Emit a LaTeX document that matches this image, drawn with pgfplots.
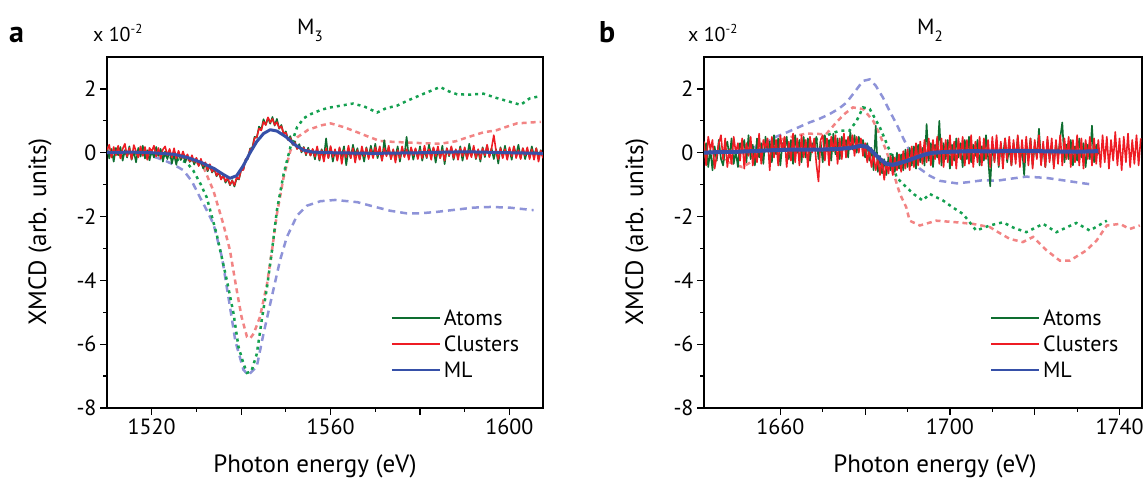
\documentclass[border=0pt]{standalone}
\usepackage{pgfplots}
\pgfplotsset{compat=1.18}
\usepackage{pgfplotstable}
\usepackage{fontspec}
\setmainfont{PT Sans}

\definecolor{gA}{HTML}{0E6E30}
\definecolor{rC}{HTML}{EE1C24}
\definecolor{bML}{HTML}{3650A8}
\definecolor{gD}{HTML}{14A050}
\definecolor{rD}{HTML}{F28484}
\definecolor{bD}{HTML}{8E93D8}

\pgfplotstableread{
x A C
1510.0 0.22 0.08
1510.5 -0.18 0.25
1511.0 0.12 -0.15
1511.5 -0.28 0.18
1512.0 0.15 -0.08
1512.5 -0.08 0.22
1513.0 0.18 -0.18
1513.5 -0.25 0.12
1514.0 0.08 0.28
1514.5 -0.15 -0.12
1515.0 0.20 0.15
1515.5 -0.22 -0.20
1516.0 0.04 0.24
1516.5 -0.30 0.04
1517.0 0.15 -0.15
1517.5 -0.12 0.20
1518.0 0.22 -0.10
1518.5 -0.18 0.18
1519.0 0.08 -0.22
1519.5 -0.24 0.15
1520.0 0.06 0.04
1520.5 -0.15 0.22
1521.0 0.18 -0.12
1521.5 -0.10 0.15
1522.0 0.12 -0.18
1522.5 -0.28 0.10
1523.0 0.04 0.20
1523.5 -0.20 -0.08
1524.0 0.08 0.12
1524.5 -0.34 -0.15
1525.0 -0.06 0.14
1525.5 -0.38 -0.18
1526.0 0.02 0.06
1526.5 -0.23 -0.16
1527.0 -0.05 0.04
1527.5 -0.30 -0.17
1528.0 -0.09 -0.05
1528.5 -0.29 -0.27
1529.0 -0.16 -0.08
1529.5 -0.37 -0.29
1530.0 -0.18 -0.16
1530.5 -0.40 -0.42
1531.0 -0.27 -0.19
1531.5 -0.49 -0.41
1532.0 -0.35 -0.30
1532.5 -0.58 -0.54
1533.0 -0.40 -0.36
1533.5 -0.62 -0.60
1534.0 -0.51 -0.47
1534.5 -0.74 -0.72
1535.0 -0.62 -0.59
1535.5 -0.82 -0.84
1536.0 -0.71 -0.71
1536.5 -0.94 -0.90
1537.0 -0.81 -0.78
1537.5 -1.02 -1.00
1538.0 -0.86 -0.88
1538.5 -1.06 -1.02
1539.0 -0.80 -0.77
1539.5 -0.84 -0.82
1540.0 -0.54 -0.54
1540.5 -0.52 -0.54
1541.0 -0.22 -0.20
1541.5 -0.20 -0.18
1542.0 0.13 0.11
1542.5 0.16 0.14
1543.0 0.50 0.46
1543.5 0.47 0.49
1544.0 0.82 0.76
1544.5 0.72 0.70
1545.0 1.05 0.97
1545.5 0.87 0.87
1546.0 1.09 1.11
1546.5 0.91 0.95
1547.0 1.12 1.06
1547.5 0.85 0.87
1548.0 1.06 0.96
1548.5 0.75 0.77
1549.0 0.87 0.83
1549.5 0.58 0.60
1550.0 0.67 0.63
1550.5 0.40 0.40
1551.0 0.52 0.46
1551.5 0.25 0.27
1552.0 0.36 0.32
1552.5 0.12 0.12
1553.0 0.27 0.19
1553.5 0.01 0.05
1554.0 0.18 0.16
1554.5 -0.08 -0.04
1555.0 0.16 0.10
1555.5 -0.09 -0.09
1556.0 0.10 0.12
1556.5 -0.21 -0.12
1557.0 0.14 0.20
1557.5 -0.25 -0.21
1558.0 0.11 0.08
1558.5 -0.14 -0.28
1559.0 0.45 0.14
1559.5 -0.17 -0.17
1560.0 0.17 0.21
1560.5 -0.28 -0.14
1561.0 0.08 0.11
1561.5 -0.21 -0.25
1562.0 0.14 0.17
1562.5 -0.11 -0.35
1563.0 0.20 0.08
1563.5 -0.39 -0.14
1564.0 0.11 0.22
1564.5 -0.17 -0.17
1565.0 0.25 0.14
1565.5 -0.08 -0.31
1566.0 0.14 0.08
1566.5 -0.20 -0.22
1567.0 0.08 0.20
1567.5 -0.28 -0.11
1568.0 0.17 0.14
1568.5 -0.14 -0.20
1569.0 0.22 0.11
1569.5 -0.11 -0.17
1570.0 0.28 0.17
1570.5 -0.17 -0.08
1571.0 0.11 0.20
1571.5 -0.25 -0.25
1572.0 0.39 0.14
1572.5 -0.08 -0.11
1573.0 0.17 0.22
1573.5 -0.20 -0.20
1574.0 0.08 0.11
1574.5 -0.14 -0.31
1575.0 0.20 0.08
1575.5 -0.28 -0.17
1576.0 0.14 0.20
1576.5 -0.11 -0.14
1577.0 0.50 0.11
1577.5 -0.17 -0.22
1578.0 0.14 0.17
1578.5 -0.22 -0.08
1579.0 0.11 0.14
1579.5 -0.14 -0.20
1580.0 0.20 0.08
1580.5 -0.25 -0.17
1581.0 0.08 0.22
1581.5 -0.17 -0.14
1582.0 0.25 0.11
1582.5 -0.08 -0.22
1583.0 0.14 0.17
1583.5 -0.31 -0.11
1584.0 0.11 0.20
1584.5 -0.17 -0.17
1585.0 0.22 0.08
1585.5 -0.36 -0.25
1586.0 0.14 0.14
1586.5 -0.11 -0.08
1587.0 0.17 0.20
1587.5 -0.22 -0.17
1588.0 0.08 0.11
1588.5 -0.14 -0.22
1589.0 0.20 0.14
1589.5 -0.25 -0.11
1590.0 0.11 0.17
1590.5 -0.17 -0.20
1591.0 0.28 0.08
1591.5 -0.08 -0.14
1592.0 0.14 0.22
1592.5 -0.20 -0.17
1593.0 0.08 0.11
1593.5 -0.28 -0.20
1594.0 0.17 0.14
1594.5 -0.14 -0.08
1595.0 0.22 0.25
1595.5 -0.11 -0.14
1596.0 0.14 0.14
1596.5 -0.20 0.55
1597.0 0.11 0.06
1597.5 -0.34 -0.20
1598.0 0.17 0.14
1598.5 -0.14 -0.17
1599.0 0.22 0.11
1599.5 -0.17 -0.22
1600.0 0.11 0.17
1600.5 -0.22 -0.11
1601.0 0.20 0.20
1601.5 -0.08 -0.17
1602.0 0.25 0.08
1602.5 -0.17 -0.20
1603.0 0.14 0.14
1603.5 -0.20 -0.08
1604.0 0.08 0.17
1604.5 -0.14 -0.20
1605.0 0.20 0.11
1605.5 -0.11 -0.22
1606.0 0.14 0.14
1606.5 -0.17 -0.28
1607.0 0.08 0.07
1607.5 -0.14 -0.17
}\tabA

\pgfplotstableread{
x A C
1642.0 -0.15 0.35
1642.5 0.30 -0.40
1643.0 -0.45 0.50
1643.5 0.10 0.10
1644.0 -0.55 0.40
1644.5 0.20 -0.50
1645.0 -0.25 -0.10
1645.5 0.40 0.30
1646.0 -0.20 0.55
1646.5 -0.40 -0.20
1647.0 0.15 0.45
1647.5 0.35 -0.45
1648.0 -0.15 0.10
1648.5 0.45 -0.35
1649.0 -0.35 0.50
1649.5 0.05 0.00
1650.0 -0.45 0.30
1650.5 0.30 -0.25
1651.0 0.10 0.45
1651.5 0.40 -0.50
1652.0 -0.30 0.30
1652.5 0.55 -0.10
1653.0 -0.20 0.50
1653.5 0.25 -0.40
1654.0 -0.40 0.05
1654.5 0.45 -0.30
1655.0 -0.15 0.60
1655.5 0.30 -0.35
1656.0 -0.35 0.40
1656.5 0.50 0.15
1657.0 0.05 0.45
1657.5 0.35 -0.55
1658.0 -0.30 0.50
1658.5 0.55 -0.15
1659.0 -0.05 0.40
1659.5 0.45 -0.40
1660.0 -0.40 0.55
1660.5 0.30 0.05
1661.0 0.10 0.50
1661.5 0.50 -0.45
1662.0 -0.20 0.35
1662.5 0.40 -0.25
1663.0 -0.35 0.60
1663.5 0.55 -0.30
1664.0 0.00 0.45
1664.5 0.40 -0.40
1665.0 -0.30 0.55
1665.5 0.50 -0.15
1666.0 -0.15 0.40
1666.5 0.45 -0.45
1667.0 -0.25 0.50
1667.5 0.30 0.00
1668.0 0.10 0.45
1668.5 0.50 -0.35
1669.0 -0.20 -0.90
1669.5 0.35 0.40
1670.0 -0.30 0.55
1670.5 0.55 -0.25
1671.0 0.05 0.45
1671.5 0.40 -0.40
1672.0 -0.25 0.50
1672.5 0.60 0.05
1673.0 -0.05 0.55
1673.5 0.45 -0.35
1674.0 -0.20 0.45
1674.5 0.50 -0.20
1675.0 0.10 0.60
1675.5 0.40 -0.15
1676.0 -0.15 0.50
1676.5 0.65 0.10
1677.0 0.10 0.55
1677.5 0.55 -0.10
1678.0 0.00 0.50
1678.5 0.50 0.00
1679.0 0.20 0.45
1679.5 0.40 -0.10
1680.0 -0.15 0.30
1680.5 0.30 -0.30
1681.0 -0.25 0.10
1681.5 0.15 -0.45
1682.0 -0.55 -0.05
1682.5 0.85 -0.55
1683.0 -0.60 -0.15
1683.5 -0.10 -0.70
1684.0 -0.65 -0.20
1684.5 -0.20 -0.85
1685.0 -0.70 -0.30
1685.5 -0.15 -0.65
1686.0 -0.55 -0.10
1686.5 -0.05 -0.70
1687.0 -0.60 -0.15
1687.5 0.00 -0.55
1688.0 -0.50 -0.05
1688.5 -0.05 -0.60
1689.0 -0.55 0.05
1689.5 0.10 -0.50
1690.0 -0.45 0.10
1690.5 0.15 -0.55
1691.0 -0.40 0.20
1691.5 0.20 -0.45
1692.0 -0.50 0.30
1692.5 0.25 -0.40
1693.0 -0.30 0.35
1693.5 0.15 -0.35
1694.0 -0.40 0.40
1694.5 0.90 -0.30
1695.0 -0.25 0.45
1695.5 0.30 -0.40
1696.0 -0.45 0.40
1696.5 0.25 -0.20
1697.0 -0.15 0.50
1697.5 1.00 -0.35
1698.0 -0.40 0.45
1698.5 0.30 -0.45
1699.0 -0.20 0.40
1699.5 0.40 -0.30
1700.0 -0.50 0.55
1700.5 0.25 -0.40
1701.0 -0.25 0.35
1701.5 0.45 -0.50
1702.0 -0.15 0.45
1702.5 0.30 -0.20
1703.0 -0.45 0.50
1703.5 0.40 -0.40
1704.0 -0.20 0.40
1704.5 0.50 -0.35
1705.0 -0.30 0.55
1705.5 0.25 -0.45
1706.0 -0.10 0.35
1706.5 0.40 -0.30
1707.0 -0.40 0.50
1707.5 0.20 -0.40
1708.0 -0.25 0.45
1708.5 0.55 -0.20
1709.0 -0.15 0.40
1709.5 -1.05 -0.45
1710.0 0.30 0.50
1710.5 -0.25 -0.30
1711.0 0.40 0.55
1711.5 -0.45 -0.40
1712.0 0.25 0.35
1712.5 -0.15 -0.50
1713.0 0.45 0.45
1713.5 -0.30 -0.20
1714.0 0.20 0.50
1714.5 -0.40 -0.40
1715.0 0.30 0.40
1715.5 -0.20 -0.35
1716.0 0.50 0.55
1716.5 -0.25 -0.45
1717.0 0.15 0.40
1717.5 -0.70 -0.30
1718.0 0.30 0.50
1718.5 -0.20 -0.40
1719.0 0.45 0.45
1719.5 -0.40 -0.50
1720.0 0.25 0.40
1720.5 -0.15 -0.20
1721.0 0.75 0.55
1721.5 -0.30 -0.40
1722.0 0.20 0.35
1722.5 -0.45 -0.45
1723.0 0.40 0.50
1723.5 -0.20 -0.30
1724.0 0.25 0.45
1724.5 -0.40 -0.50
1725.0 0.30 0.40
1725.5 -0.15 -0.35
1726.0 0.45 0.55
1726.5 0.95 -0.40
1727.0 -0.30 0.45
1727.5 0.25 -0.20
1728.0 -0.20 0.50
1728.5 0.40 -0.45
1729.0 -0.40 0.40
1729.5 0.20 -0.30
1730.0 -0.25 0.55
1730.5 0.45 -0.40
1731.0 -0.15 0.45
1731.5 0.30 -0.50
1732.0 -0.45 0.40
1732.5 0.25 -0.20
1733.0 -0.20 0.50
1733.5 0.85 -0.40
1734.0 -0.30 0.45
1734.5 0.25 -0.35
1735.0 -0.05 0.40
1735.5 nan -0.45
1736.0 nan 0.55
1736.5 nan -0.30
1737.0 nan 0.50
1737.5 nan -0.50
1738.0 nan 0.40
1738.5 nan -0.25
1739.0 nan 0.65
1739.5 nan -0.40
1740.0 nan 0.45
1740.5 nan -0.55
1741.0 nan 0.50
1741.5 nan -0.30
1742.0 nan 0.60
1742.5 nan -0.45
1743.0 nan 0.40
1743.5 nan -0.35
1744.0 nan 0.55
1744.5 nan -0.40
1745.0 nan 0.45
}\tabB

\pgfplotsset{
  xmcd/.style={
    scale only axis, anchor=south west, height=351pt,
    ymin=-8, ymax=3,
    ytick={-8,-6,-4,-2,0,2}, yticklabels={-8,-6,-4,-2,0,2},
    minor y tick num=1, minor x tick num=1,
    tick align=outside, tick pos=left,
    major tick length=7pt, minor tick length=4pt,
    axis line style={line width=1.2pt},
    every tick/.append style={black, line width=1.2pt},
    ticklabel style={font=\fontsize{22}{22}\selectfont},
    legend cell align=left,
    legend style={draw=none, fill=none, anchor=north west, inner sep=0pt,
      font=\fontsize{22}{22}\selectfont, row sep=3pt,
      nodes={inner sep=3pt}},
    legend image code/.code={\draw[##1, line width=1.8pt] (0pt,0pt) -- (48pt,0pt);},
  },
  noisy/.style={line width=1.6pt, line join=round},
  gdash/.style={gD, line width=2.5pt, dash pattern=on 3pt off 4pt, forget plot},
  rdash/.style={rD, line width=2.5pt, dash pattern=on 5pt off 4pt, forget plot},
  bdash/.style={bD, line width=2.5pt, dash pattern=on 7pt off 5pt, forget plot},
}

\begin{document}
\begin{tikzpicture}[x=1pt,y=1pt]
\useasboundingbox (0,0) rectangle (1143,479);

% ---------------- panel a ----------------
\begin{axis}[xmcd, at={(107pt,71pt)}, width=436pt,
  xmin=1510, xmax=1607.5,
  xtick={1520,1540,1560,1580,1600}, xticklabels={1520,,1560,,1600},
  legend style={at={(0.651,0.29)}}]
\addplot[bdash] coordinates {(1510,0) (1516,-0.03) (1520,-0.1) (1523,-0.25) (1525,-0.38) (1527.1,-0.55) (1529,-0.9) (1530.8,-1.4) (1532.3,-1.8) (1533.8,-2.23) (1535.7,-3.27) (1537.5,-4.83) (1538.7,-5.9) (1540.5,-6.8) (1541.6,-6.97) (1543.5,-6.7) (1545,-5.67) (1547.2,-4.3) (1548.7,-3.37) (1550.2,-2.65) (1552.5,-1.97) (1554.7,-1.66) (1557.7,-1.52) (1561,-1.48) (1566,-1.55) (1570,-1.7) (1573.4,-1.82) (1577,-1.9) (1580,-1.9) (1584,-1.85) (1588.3,-1.78) (1592,-1.72) (1595.7,-1.7) (1600,-1.72) (1605.4,-1.8)};
\addplot[rdash] coordinates {(1510,0) (1520,-0.03) (1525,-0.1) (1528,-0.2) (1530,-0.3) (1531.6,-0.46) (1533.8,-1.19) (1536,-2.23) (1537.5,-3.06) (1539,-4.3) (1540.1,-5.15) (1541.3,-5.77) (1542,-5.82) (1542.8,-5.67) (1544.2,-5.15) (1545.8,-4.1) (1546.9,-3.06) (1548,-1.92) (1549.5,-0.77) (1551,0.06) (1552.5,0.48) (1555,0.72) (1558,0.86) (1560,0.92) (1563,0.8) (1566,0.64) (1568.5,0.5) (1571,0.37) (1574,0.34) (1577,0.32) (1580.5,0.3) (1584.5,0.28) (1588,0.36) (1591,0.5) (1594.2,0.64) (1597,0.7) (1599.5,0.82) (1601.7,0.92) (1604,0.94) (1607,0.97)};
\addplot[gdash] coordinates {(1510,0) (1518,-0.02) (1522,-0.06) (1525,-0.18) (1527.8,-0.3) (1529.3,-0.56) (1531,-1.0) (1532.3,-1.4) (1534.5,-2.54) (1536.8,-4.0) (1538.3,-5.04) (1539.4,-6.08) (1540.5,-6.6) (1541.3,-6.9) (1542.3,-6.85) (1543.5,-6.3) (1544.6,-5.25) (1545.8,-4.2) (1546.9,-3.06) (1548,-1.8) (1549.5,-0.67) (1551,0.17) (1552.5,0.8) (1554,1.08) (1555.4,1.2) (1558,1.35) (1560,1.42) (1565,1.54) (1567.5,1.45) (1570.4,1.26) (1572.5,1.4) (1574.8,1.47) (1577,1.62) (1580,1.8) (1584.5,2.06) (1586.5,1.92) (1588.3,1.83) (1591,1.82) (1594.2,1.85) (1597,1.72) (1600,1.6) (1602.5,1.5) (1604.5,1.7) (1607,1.78)};
\addplot[gA, noisy] table[x=x, y=A] {\tabA};
\addplot[rC, noisy] table[x=x, y=C] {\tabA};
\addplot[bML, line width=3pt, line join=round] coordinates {(1510,0) (1515,0.02) (1520,0) (1525,-0.05) (1528,-0.15) (1531,-0.3) (1534,-0.5) (1536,-0.68) (1537.5,-0.8) (1539,-0.72) (1540.5,-0.4) (1542,0) (1543.5,0.35) (1545,0.6) (1546.5,0.72) (1548,0.68) (1550,0.5) (1552,0.25) (1554,0.08) (1556,0.02) (1560,0) (1570,-0.02) (1580,0) (1590,0.03) (1600,0) (1607.5,-0.02)};
\legend{Atoms,Clusters,ML}
\end{axis}

% ---------------- panel b ----------------
\begin{axis}[xmcd, at={(704pt,71pt)}, width=438pt,
  xmin=1642, xmax=1745.3,
  xtick={1660,1680,1700,1720,1740}, xticklabels={1660,,1700,,1740},
  legend style={at={(0.653,0.29)}}]
\addplot[bdash] coordinates {(1642.4,0) (1647,0.02) (1651.2,0.06) (1654,0.18) (1656.7,0.32) (1659,0.5) (1661.4,0.63) (1664,0.78) (1666.9,0.95) (1669,1.05) (1671.6,1.21) (1673.8,1.38) (1675.6,1.57) (1677.5,1.9) (1679.5,2.25) (1681.1,2.3) (1682.5,2.1) (1684.2,1.73) (1685.8,1.3) (1687.4,0.9) (1689,0.45) (1690.5,0.06) (1692.9,-0.5) (1695.2,-0.72) (1697.6,-0.88) (1701.6,-0.96) (1704.5,-0.92) (1707.9,-0.86) (1711,-0.88) (1714,-0.82) (1718,-0.75) (1722.8,-0.79) (1727.5,-0.88) (1731,-0.95) (1733.8,-1.0)};
\addplot[rdash] coordinates {(1642,0) (1645,-0.1) (1648,-0.3) (1651,-0.45) (1653,-0.3) (1655,-0.05) (1657,0.2) (1659,0.37) (1662,0.48) (1666.1,0.6) (1670.8,0.58) (1673.2,0.95) (1675,1.2) (1677.1,1.42) (1679.5,1.37) (1681.9,1.0) (1683.5,0.55) (1685,0.06) (1686.7,-0.65) (1688.2,-1.29) (1689.7,-1.71) (1690.5,-2.13) (1692.9,-2.28) (1696.8,-2.13) (1701.5,-2.18) (1705.4,-2.23) (1709.4,-2.33) (1711.5,-2.5) (1714.1,-2.7) (1717.2,-2.8) (1719.6,-2.64) (1722.8,-3.06) (1725.9,-3.38) (1728.3,-3.38) (1732.2,-3.06) (1734.6,-2.75) (1737,-2.28) (1740.1,-2.23) (1742.4,-2.39) (1744.8,-2.28)};
\addplot[gdash] coordinates {(1642,0) (1648,0.02) (1655,0.1) (1660,0.18) (1665,0.3) (1668,0.4) (1670,0.48) (1672,0.6) (1674,0.69) (1676.3,0.69) (1678,1.0) (1679.5,1.42) (1681.1,1.37) (1683.5,0.79) (1685.8,0.06) (1687.4,-0.77) (1689.7,-1.08) (1691.5,-1.3) (1693.6,-1.5) (1695.2,-1.29) (1698.4,-1.5) (1700.5,-1.7) (1703.1,-1.92) (1706.2,-2.44) (1709.4,-2.28) (1712.5,-2.18) (1715,-2.35) (1718,-2.49) (1722,-2.23) (1725.1,-2.49) (1729.8,-2.2) (1733,-2.44) (1737,-2.13)};
\addplot[gA, noisy] table[x=x, y=A] {\tabB};
\addplot[rC, noisy] table[x=x, y=C] {\tabB};
\addplot[bML, line width=4pt, line join=round] coordinates {(1642,0) (1645,0.02) (1650,0.03) (1655,0.06) (1660,0.09) (1665,0.1) (1670,0.1) (1674,0.12) (1677,0.16) (1679,0.22) (1680.5,0.18) (1682,0.0) (1683.5,-0.2) (1685,-0.35) (1686.5,-0.38) (1688,-0.33) (1690,-0.25) (1692,-0.15) (1694,-0.06) (1696,0.0) (1700,0.03) (1705,0.05) (1710,0.04) (1715,0.06) (1720,0.05) (1725,0.04) (1730,0.03) (1735,0.05)};
\legend{Atoms,Clusters,ML}
\end{axis}

% ---------------- texts ----------------
\node[anchor=base west, inner sep=0pt, font=\fontsize{30}{30}\selectfont\bfseries] at (9,436) {a};
\node[anchor=base west, inner sep=0pt, font=\fontsize{30}{30}\selectfont\bfseries] at (599,436) {b};
\node[anchor=base west, inner sep=0pt, font=\fontsize{20}{20}\selectfont] at (93,437) {x 10\raisebox{8pt}{\fontsize{13}{13}\selectfont -2}};
\node[anchor=base west, inner sep=0pt, font=\fontsize{20}{20}\selectfont] at (688,437) {x 10\raisebox{8pt}{\fontsize{13}{13}\selectfont -2}};
\node[anchor=base west, inner sep=0pt, font=\fontsize{22}{22}\selectfont] at (297,444) {M\raisebox{-7pt}{\fontsize{15}{15}\selectfont 3}};
\node[anchor=base west, inner sep=0pt, font=\fontsize{22}{22}\selectfont] at (917,444) {M\raisebox{-7pt}{\fontsize{15}{15}\selectfont 2}};
\node[rotate=90, inner sep=0pt, font=\fontsize{25}{25}\selectfont] at (40,247) {XMCD (arb. units)};
\node[rotate=90, inner sep=0pt, font=\fontsize{25}{25}\selectfont] at (637,247) {XMCD (arb. units)};
\node[anchor=base, inner sep=0pt, font=\fontsize{25}{25}\selectfont] at (315,6) {Photon energy (eV)};
\node[anchor=base, inner sep=0pt, font=\fontsize{25}{25}\selectfont] at (935,6) {Photon energy (eV)};
\end{tikzpicture}
\end{document}
